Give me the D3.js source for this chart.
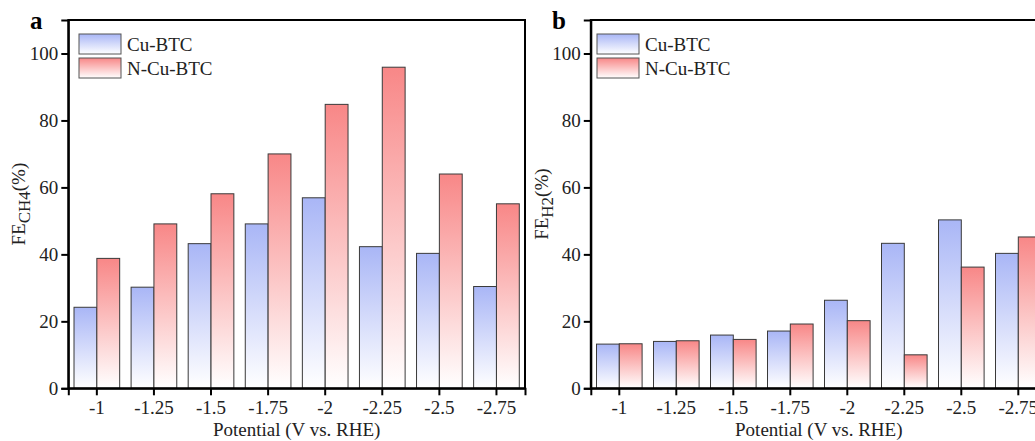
<!DOCTYPE html>
<html>
<head>
<meta charset="utf-8">
<script src="https://cdn.jsdelivr.net/npm/d3@7"></script>
<style>
  html, body { margin: 0; padding: 0; background: #fff; }
  svg { display: block; font-family: "Liberation Serif", "Times New Roman", serif; }
</style>
</head>
<body>
<svg id="chart" width="1035" height="441"></svg>
<script>
/* ── Data ─────────────────────────────────────────────── */
const categories = ['-1', '-1.25', '-1.5', '-1.75', '-2', '-2.25', '-2.5', '-2.75'];
const seriesNames = ['Cu-BTC', 'N-Cu-BTC'];
const yTicks = [0, 20, 40, 60, 80, 100];

// panel a – FE CH4 (%)
const cuBtcCH4  = [24.2, 30.2, 43.2, 49.1, 56.9, 42.3, 40.3, 30.4];
const nCuBtcCH4 = [38.8, 49.1, 58.1, 70.0, 84.8, 95.9, 64.0, 55.1];

// panel b – FE H2 (%)
const cuBtcH2  = [13.2, 14.0, 15.9, 17.1, 26.3, 43.3, 50.3, 40.3];
const nCuBtcH2 = [13.3, 14.2, 14.6, 19.2, 20.2, 10.0, 36.2, 45.2];

/* ── Setup ────────────────────────────────────────────── */
const svg = d3.select('#chart');
const FONT = 19;
const TOP = 20, BOTTOM = 388.3;

const defs = svg.append('defs');
function gradient(id, top) {
  const g = defs.append('linearGradient')
    .attr('id', id).attr('x1', 0).attr('y1', 0).attr('x2', 0).attr('y2', 1);
  g.append('stop').attr('offset', 0).attr('stop-color', top);
  g.append('stop').attr('offset', 1).attr('stop-color', '#ffffff');
}
gradient('gBlue', '#a9b6f6');
gradient('gRed',  '#f88787');
const fills = ['url(#gBlue)', 'url(#gRed)'];

/* ── One panel ────────────────────────────────────────── */
function drawPanel(p) {
  const g = svg.append('g');

  const x = d3.scaleBand().domain(categories).range([p.left, p.right]).padding(0);
  const y = d3.scaleLinear().domain([0, 110]).range([BOTTOM, TOP]);
  const bw = x.bandwidth() * 0.4;

  // bars
  [p.blue, p.red].forEach((vals, s) => {
    g.append('g').selectAll('rect')
      .data(vals).join('rect')
      .attr('x', (d, i) => x(categories[i]) + x.bandwidth() / 2 - (s === 0 ? bw : 0))
      .attr('y', d => y(d))
      .attr('width', bw)
      .attr('height', d => y(0) - y(d))
      .attr('fill', fills[s])
      .attr('stroke', '#3a3a3a')
      .attr('stroke-width', 1);
  });

  // frame
  g.append('rect')
    .attr('x', p.left).attr('y', TOP)
    .attr('width', p.right - p.left).attr('height', BOTTOM - TOP)
    .attr('fill', 'none').attr('stroke', '#000').attr('stroke-width', 2);

  // axes
  const ya = g.append('g').attr('transform', `translate(${p.left},0)`)
    .call(d3.axisLeft(y).tickValues(yTicks).tickSize(7).tickPadding(3));
  const xa = g.append('g').attr('transform', `translate(0,${BOTTOM})`)
    .call(d3.axisBottom(x).tickSize(7).tickPadding(5));
  [ya, xa].forEach(a => {
    a.select('.domain').attr('stroke', '#000').attr('stroke-width', 2);
    a.selectAll('.tick line').attr('stroke', '#000').attr('stroke-width', 2);
    a.selectAll('.tick text')
      .attr('fill', '#222')
      .style('font-family', '"Liberation Serif", serif')
      .style('font-size', FONT + 'px');
  });
  xa.selectAll('.tick text').attr('dy', '0.72em');

  // x title
  g.append('text')
    .attr('x', (p.left + p.right) / 2).attr('y', 436)
    .attr('text-anchor', 'middle')
    .style('font-size', FONT + 'px').attr('fill', '#222')
    .text('Potential (V vs. RHE)');

  // y title with subscript
  const yt = g.append('text')
    .attr('transform', `translate(${p.left - 43},${(TOP + BOTTOM) / 2}) rotate(-90)`)
    .attr('text-anchor', 'middle')
    .style('font-size', FONT + 'px').attr('fill', '#222');
  yt.append('tspan').text('FE');
  yt.append('tspan').attr('dy', 5).style('font-size', '17px').text(p.sub);
  yt.append('tspan').attr('dy', -5).text('(%)');

  // panel letter
  g.append('text')
    .attr('x', p.letterX).attr('y', 29)
    .style('font-size', '25px').style('font-weight', 'bold')
    .text(p.letter);

  // legend
  seriesNames.forEach((name, s) => {
    g.append('rect')
      .attr('x', p.legendX).attr('y', 34 + s * 24)
      .attr('width', 42).attr('height', 20)
      .attr('fill', fills[s]).attr('stroke', '#555').attr('stroke-width', 1);
    g.append('text')
      .attr('x', p.legendX + 48).attr('y', 51 + s * 24)
      .style('font-size', FONT + 'px').attr('fill', '#222')
      .text(name);
  });
}

drawPanel({ left: 68.3, right: 525, blue: cuBtcCH4, red: nCuBtcCH4, sub: 'CH4', letter: 'a', letterX: 30, legendX: 79 });
drawPanel({ left: 590.8, right: 1046.8, blue: cuBtcH2, red: nCuBtcH2, sub: 'H2', letter: 'b', letterX: 552, legendX: 597 });
</script>
</body>
</html>
